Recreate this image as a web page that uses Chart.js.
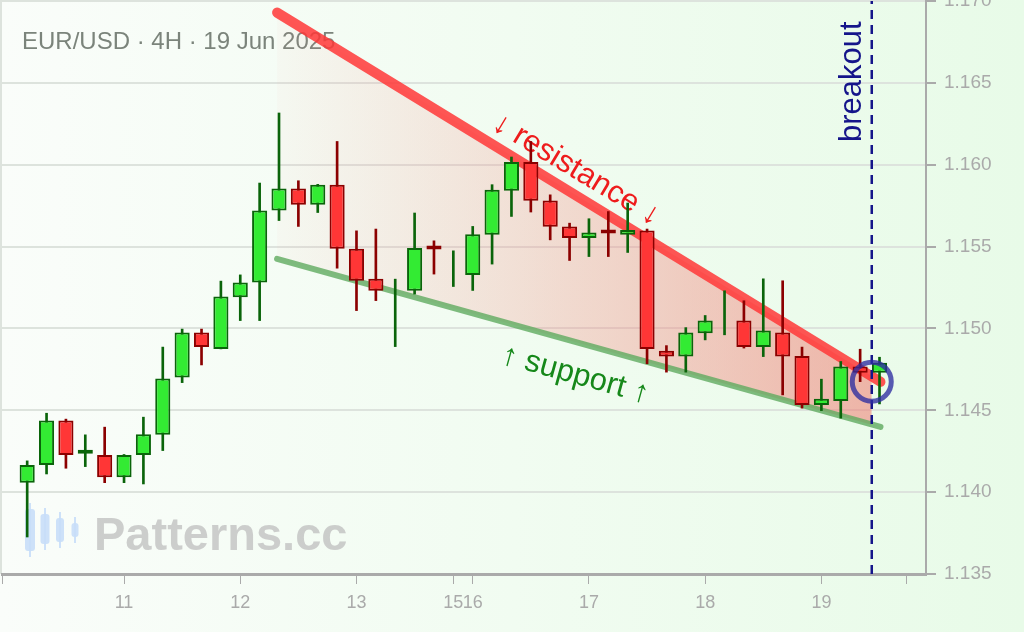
<!DOCTYPE html>
<html>
<head>
<meta charset="utf-8">
<script src="https://cdn.jsdelivr.net/npm/chart.js@4.4.1/dist/chart.umd.min.js"></script>
<style>
  html, body { margin: 0; padding: 0; background: #f5fcf5; }
  #wrap { width: 1024px; height: 632px; }
</style>
</head>
<body>
<div id="wrap"><canvas id="myChart" width="1024" height="632"></canvas></div>
<script>
// EUR/USD 4H candles, 10 Jun (04:00) .. 19 Jun 2025
const open  = [1.14058, 1.14166, 1.14437, 1.14235, 1.14227, 1.14091, 1.14227, 1.14350, 1.14700, 1.14975,
               1.14875, 1.15191, 1.15280, 1.15721, 1.15855, 1.15755, 1.15878, 1.15486, 1.15303, 1.15150,
               1.15230, 1.15491, 1.15350, 1.15327, 1.15572, 1.15841, 1.16016, 1.15782, 1.15623, 1.15552,
               1.15586, 1.15572, 1.15598, 1.14863, 1.14828, 1.14971, 1.15100, 1.15048, 1.14886, 1.14975,
               1.14832, 1.14533, 1.14557, 1.14767, 1.14730];
const high  = [1.14191, 1.14482, 1.14446, 1.14350, 1.14397, 1.14230, 1.14458, 1.14886, 1.14996, 1.14996,
               1.15289, 1.15327, 1.15888, 1.16316, 1.15902, 1.15880, 1.16142, 1.15596, 1.15607, 1.15301,
               1.15705, 1.15535, 1.15474, 1.15623, 1.15878, 1.16047, 1.16142, 1.15816, 1.15643, 1.15670,
               1.15714, 1.15766, 1.15607, 1.14895, 1.15005, 1.15079, 1.15230, 1.15169, 1.15303, 1.15291,
               1.14886, 1.14690, 1.14798, 1.14873, 1.14824];
const low   = [1.13726, 1.14111, 1.14146, 1.14156, 1.14058, 1.14058, 1.14050, 1.14254, 1.14669, 1.14777,
               1.14875, 1.15048, 1.15048, 1.15659, 1.15623, 1.15708, 1.15368, 1.15109, 1.15170, 1.14889,
               1.15210, 1.15332, 1.15256, 1.15232, 1.15393, 1.15684, 1.15711, 1.15541, 1.15415, 1.15439,
               1.15439, 1.15464, 1.14784, 1.14733, 1.14733, 1.14930, 1.14961, 1.14880, 1.14828, 1.14594,
               1.14513, 1.14498, 1.14452, 1.14675, 1.14539];
const close = [1.14166, 1.14437, 1.14227, 1.14240, 1.14091, 1.14227, 1.14354, 1.14694, 1.14975, 1.14887,
               1.15195, 1.15280, 1.15721, 1.15855, 1.15755, 1.15878, 1.15486, 1.15291, 1.15230, 1.15150,
               1.15491, 1.15482, 1.15350, 1.15576, 1.15847, 1.16016, 1.15780, 1.15621, 1.15552, 1.15586,
               1.15580, 1.15601, 1.14875, 1.14828, 1.14975, 1.15048, 1.15100, 1.14886, 1.14987, 1.14828,
               1.14533, 1.14571, 1.14767, 1.14730, 1.14791];

// day labels and the candle index where each day starts
const dayLabels = ['11', '12', '13', '15', '16', '17', '18', '19'];
const dayStarts = [5, 11, 17, 22, 23, 29, 35, 41];
const axisEnds = [-1.25, 45.4];

// wedge lines (candle index / price)
const resistanceX = [12.9, 44.05];
const resistanceY = [1.16929, 1.14674];
const supportX = [12.9, 44.05];
const supportY = [1.15425, 1.14399];
const wedgeX = [12.9, 43.6];
const wedgeTop = [1.16929, 1.14710];
const wedgeBottom = [1.15425, 1.14412];

const breakoutX = 43.6;
const breakoutPrice = 1.14675;

const yMin = 1.135, yMax = 1.170, yStep = 0.005;

const UP_FILL = '#33eb33', UP_LINE = '#0a640a';
const DN_FILL = '#ff3636', DN_LINE = '#8b0000';
const FONT = 'Liberation Sans, Arial, sans-serif';

const isUp = open.map((o, i) => close[i] >= o);

const bodies = open.map((o, i) => ({ x: i, y: o === close[i] ? null : [o, close[i]] }));
const wicks = open.map((o, i) => ({ x: i, y: [low[i], high[i]] }));

const toPoints = (xs, ys) => xs.map((x, i) => ({ x: x, y: ys[i] }));

const background = {
  id: 'background',
  beforeDraw(chart) {
    const c = chart.ctx;
    const g = c.createLinearGradient(0, 0, chart.width, 0);
    g.addColorStop(0, '#fafdfa');
    g.addColorStop(1, '#e8fbe8');
    c.save();
    c.fillStyle = g;
    c.fillRect(0, 0, chart.width, chart.height);
    c.strokeStyle = '#dde3dd';
    c.lineWidth = 2;
    c.beginPath();
    c.moveTo(1, 0);
    c.lineTo(1, chart.chartArea.bottom);
    c.stroke();
    c.restore();
  }
};

const annotations = {
  id: 'annotations',
  beforeDatasetsDraw(chart) {
    const c = chart.ctx;
    c.save();
    // title
    c.fillStyle = '#7b847b';
    c.font = '24px ' + FONT;
    c.textBaseline = 'alphabetic';
    c.fillText('EUR/USD · 4H · 19 Jun 2025', 22, 49);
    // watermark
    c.fillStyle = 'rgba(200,222,248,0.9)';
    const icon = [[30, 503, 557, 10], [45, 508, 550, 9], [60, 512, 548, 8], [75, 517, 543, 7]];
    icon.forEach(([x, t, b, w]) => {
      c.fillRect(x - 1, t, 2, b - t);
      c.beginPath();
      c.roundRect(x - w / 2, t + 6, w, b - t - 12, 3);
      c.fill();
    });
    c.fillStyle = 'rgba(190,190,190,0.75)';
    c.font = 'bold 47px ' + FONT;
    c.fillText('Patterns.cc', 94, 550);
    c.restore();
  },
  afterDatasetDraw(chart, args) {
    if (args.index !== 4) return;
    const c = chart.ctx;
    const xs = chart.scales.x, ys = chart.scales.y;
    const label = (text, xv, yv, deg, color, size) => {
      c.save();
      c.translate(xs.getPixelForValue(xv), ys.getPixelForValue(yv));
      c.rotate(deg * Math.PI / 180);
      c.fillStyle = color;
      c.font = size + 'px ' + FONT;
      c.textAlign = 'center';
      c.textBaseline = 'middle';
      c.fillText(text, 0, 0);
      c.restore();
    };
    label('↓ resistance ↓', 28.34, 1.15969, 31, '#ee1c1c', 31);
    label('↑ support ↑', 28.29, 1.14716, 15.5, '#16881a', 31);
    label('breakout', 42.6, 1.16507, -90, '#15158a', 31);
  }
};

const ctx = document.getElementById('myChart').getContext('2d');
const myChart = new Chart(ctx, {
  type: 'bar',
  data: {
    datasets: [{
      type: 'scatter',
      data: [{ x: breakoutX, y: breakoutPrice }],
      pointRadius: 19.5,
      pointBorderWidth: 5,
      pointBorderColor: 'rgba(45,45,160,0.78)',
      pointBackgroundColor: 'rgba(0,0,0,0)',
      order: 0
    }, {
      type: 'line',
      data: toPoints([breakoutX, breakoutX], [yMin, yMax]),
      borderColor: '#15158a',
      borderWidth: 2.5,
      borderDash: [9, 6],
      pointRadius: 0,
      order: 1
    }, {
      data: bodies,
      grouped: false,
      backgroundColor: isUp.map(u => u ? UP_FILL : DN_FILL),
      borderColor: isUp.map(u => u ? UP_LINE : DN_LINE),
      borderWidth: 2,
      borderSkipped: false,
      minBarLength: 4,
      barPercentage: 0.78,
      categoryPercentage: 1,
      order: 2
    }, {
      data: wicks,
      grouped: false,
      backgroundColor: isUp.map(u => u ? UP_LINE : DN_LINE),
      borderWidth: 0,
      barThickness: 2,
      order: 3
    }, {
      type: 'line',
      data: toPoints(resistanceX, resistanceY),
      borderColor: 'rgba(255,55,55,0.85)',
      borderWidth: 10,
      borderCapStyle: 'round',
      pointRadius: 0,
      order: 4
    }, {
      type: 'line',
      data: toPoints(supportX, supportY),
      borderColor: 'rgba(95,170,95,0.8)',
      borderWidth: 6,
      borderCapStyle: 'round',
      pointRadius: 0,
      order: 5
    }, {
      type: 'line',
      data: toPoints(wedgeX, wedgeTop),
      borderWidth: 0,
      pointRadius: 0,
      fill: '+1',
      backgroundColor: (context) => {
        const chart = context.chart;
        const { chartArea, scales } = chart;
        if (!chartArea) return 'rgba(0,0,0,0)';
        const x0 = scales.x.getPixelForValue(wedgeX[0]);
        const x1 = scales.x.getPixelForValue(wedgeX[1]);
        const g = chart.ctx.createLinearGradient(x0, 0, x1, 0);
        g.addColorStop(0, 'rgba(245,140,135,0.04)');
        g.addColorStop(1, 'rgba(240,115,105,0.52)');
        return g;
      },
      order: 6
    }, {
      type: 'line',
      data: toPoints(wedgeX, wedgeBottom),
      borderWidth: 0,
      pointRadius: 0,
      fill: false,
      order: 7
    }]
  },
  options: {
    responsive: false,
    animation: false,
    layout: { autoPadding: false, padding: { left: 2, top: 1 } },
    plugins: {
      legend: { display: false },
      tooltip: { enabled: false }
    },
    scales: {
      x: {
        type: 'linear',
        min: -1.3,
        max: 46.4,
        offset: false,
        border: { display: true, color: '#aaaaaa', width: 3 },
        grid: { display: true, drawOnChartArea: false, drawTicks: true, tickLength: 10, tickColor: '#aaaaaa', offset: false },
        afterBuildTicks: (scale) => {
          scale.ticks = [axisEnds[0], ...dayStarts, axisEnds[1]].map(v => ({ value: v }));
        },
        ticks: {
          autoSkip: false,
          maxRotation: 0,
          padding: 8,
          color: '#aaaaaa',
          font: { size: 18, family: FONT },
          callback: (value) => {
            const k = dayStarts.indexOf(value);
            return k >= 0 ? dayLabels[k] : '';
          }
        },
        afterFit: (scale) => {
          scale.height = 58;
          scale.paddingLeft = 0;
          scale.paddingRight = 0;
        }
      },
      y: {
        position: 'right',
        min: yMin,
        max: yMax,
        border: { display: true, color: '#aaaaaa', width: 2 },
        grid: { color: '#dde3dd', lineWidth: 2, tickLength: 10, tickColor: '#aaaaaa' },
        ticks: {
          stepSize: yStep,
          padding: 8,
          color: '#aaaaaa',
          font: { size: 19, family: FONT },
          callback: (value) => Number(value).toFixed(3)
        },
        afterFit: (scale) => {
          scale.width = 98;
          scale.paddingTop = 0;
          scale.paddingBottom = 0;
        }
      }
    }
  },
  plugins: [background, annotations]
});
</script>
</body>
</html>
